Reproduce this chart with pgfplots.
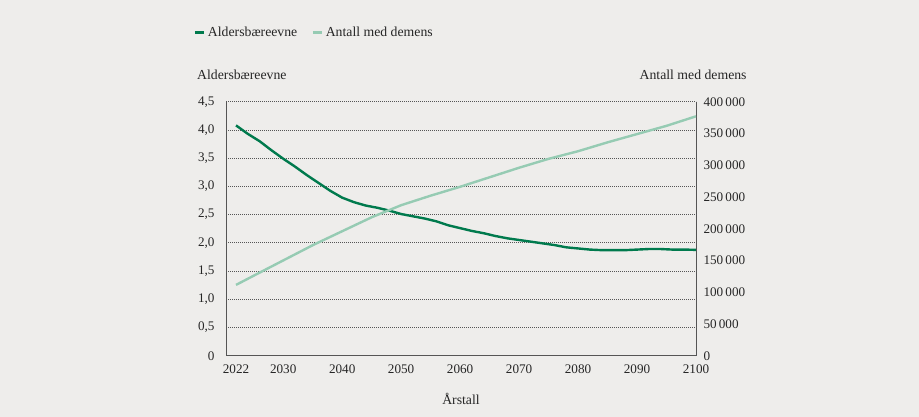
\documentclass[border=0pt]{standalone}
\usepackage{pgfplots}
\pgfplotsset{compat=1.18}
\usepackage{fontspec}
\setmainfont{Liberation Serif}

\definecolor{bgcol}{HTML}{EEEDEB}
\definecolor{darkgreen}{HTML}{007A4D}
\definecolor{lightgreen}{HTML}{96CBB3}
\definecolor{axiscol}{HTML}{555555}

\begin{document}
\begin{tikzpicture}
\fill[bgcol] (0,0) rectangle (919bp,417bp);
\useasboundingbox (0,0) rectangle (919bp,417bp);

% left axis: old-age support ratio
\begin{axis}[
  at={(226bp,61.3bp)}, anchor=south west,
  scale only axis, width=470bp, height=254bp,
  xmin=2020.3, xmax=2100, ymin=0, ymax=4.5,
  axis y line*=left, axis x line*=bottom,
  axis line style={axiscol, line width=0.9pt},
  xtick={2022,2030,2040,2050,2060,2070,2080,2090,2100},
  xticklabels={2022,2030,2040,2050,2060,2070,2080,2090,2100},
  ytick={0,0.5,1,1.5,2,2.5,3,3.5,4,4.5},
  yticklabels={0,{0,5},{1,0},{1,5},{2,0},{2,5},{3,0},{3,5},{4,0},{4,5}},
  major tick length=0pt,
  ymajorgrids, grid style={axiscol, line width=0.7pt, dash pattern=on 0.7bp off 1.3bp},
  tick label style={font=\fontsize{13.2}{15}\selectfont, text=black!85},
  yticklabel style={xshift=-8bp},
  xticklabel style={yshift=-6bp},
  xlabel={Årstall}, ylabel={Aldersbæreevne},
  label style={font=\fontsize{13.8}{16}\selectfont, text=black!85},
  xlabel style={at={(axis description cs:0.5,-0.194)}, anchor=base, inner sep=0pt},
  ylabel style={at={(axis description cs:-0.0617,1.088)}, anchor=base west, rotate=-90, inner sep=0pt},
  legend columns=2,
  legend style={at={(axis description cs:-0.0696,1.2717)}, anchor=west,
    draw=none, fill=none, inner sep=0pt,
    font=\fontsize{13.8}{16}\selectfont,
    nodes={inner sep=2bp, text=black!85},
    /tikz/every even column/.append style={column sep=12bp}},
  legend image code/.code={\draw[#1, line width=3bp] (0bp,0bp) -- (9.5bp,0bp);},
]
\addplot[darkgreen, line width=2.4bp, line join=round] coordinates {
(2022,4.08) (2024,3.93) (2026,3.80) (2028,3.64) (2030,3.49) (2032,3.35)
(2034,3.20) (2036,3.06) (2038,2.92) (2040,2.80) (2042,2.72) (2044,2.66)
(2046,2.62) (2048,2.57) (2050,2.51) (2052,2.47) (2054,2.43) (2056,2.38)
(2058,2.31) (2060,2.26) (2062,2.21) (2064,2.17) (2066,2.12) (2068,2.08)
(2070,2.05) (2072,2.02) (2074,1.99) (2076,1.96) (2078,1.92) (2080,1.90)
(2082,1.88) (2084,1.87) (2086,1.87) (2088,1.87) (2090,1.88) (2092,1.89)
(2094,1.89) (2096,1.88) (2098,1.88) (2100,1.875)
};
\addlegendentry{Aldersbæreevne}
\addlegendimage{lightgreen}
\addlegendentry{Antall med demens}
\end{axis}

% right axis: number of people with dementia
\begin{axis}[
  at={(226bp,61.3bp)}, anchor=south west,
  scale only axis, width=470bp, height=254bp,
  xmin=2020.3, xmax=2100, ymin=0, ymax=400000,
  axis y line*=right, axis x line=none,
  axis line style={axiscol, line width=0.9pt},
  scaled y ticks=false,
  ytick={0,50000,100000,150000,200000,250000,300000,350000,400000},
  yticklabels={0,50\,000,100\,000,150\,000,200\,000,250\,000,300\,000,350\,000,400\,000},
  major tick length=0pt,
  tick label style={font=\fontsize{13.2}{15}\selectfont, text=black!85},
  yticklabel style={xshift=4bp},
  ylabel={Antall med demens},
  label style={font=\fontsize{13.8}{16}\selectfont, text=black!85},
  ylabel style={at={(axis description cs:1.108,1.088)}, anchor=base east, rotate=-90, inner sep=0pt},
]
\addplot[lightgreen, line width=2.4bp, line join=round] coordinates {
(2022,111500) (2025,126000) (2030,150000) (2035,174000) (2040,196000)
(2045,218000) (2050,237000) (2055,252000) (2060,266000) (2065,281000)
(2070,296000) (2075,310000) (2080,322000) (2085,336000) (2090,349000)
(2095,362000) (2100,377000)
};
\end{axis}
\end{tikzpicture}
\end{document}
